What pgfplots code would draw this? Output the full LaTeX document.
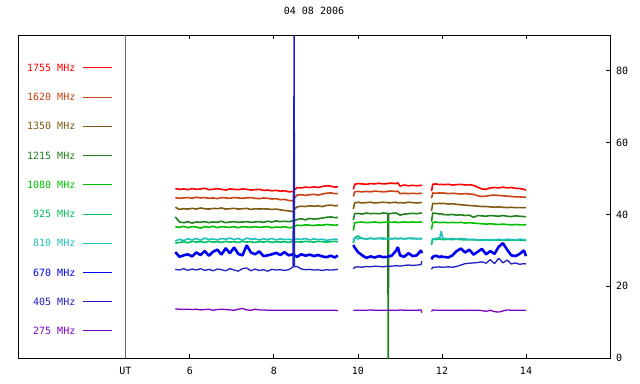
\documentclass[border=0pt]{standalone}
\usepackage{fontspec}
\setmainfont{DejaVu Sans Mono}
\usepackage{pgfplots}
\usepackage{pgfplotstable}
\pgfplotsset{compat=1.18}
\definecolor{c1755}{HTML}{FF0000}
\definecolor{c1620}{HTML}{C84010}
\definecolor{c1350}{HTML}{805A10}
\definecolor{c1215}{HTML}{208020}
\definecolor{c1080}{HTML}{00C000}
\definecolor{c925}{HTML}{00C060}
\definecolor{c810}{HTML}{20C0C0}
\definecolor{c670}{HTML}{0000F0}
\definecolor{c405}{HTML}{2020C0}
\definecolor{c275}{HTML}{8000C0}
\newcommand{\ff}{\fontsize{10bp}{12bp}\selectfont}
\pgfplotstableread{
x a b c d e f g h i j
5.65 47.2 44.7 42.0 39.3 36.6 32.0 32.6 29.5 24.7 13.7
5.75 47.0 44.5 41.4 37.9 36.4 32.2 33.1 28.2 24.5 13.6
5.85 47.1 44.6 41.6 37.7 36.7 32.4 32.7 28.6 24.9 13.6
5.95 46.9 44.7 41.5 38.0 36.3 32.1 33.2 28.9 24.4 13.6
6.05 47.2 44.5 41.7 37.6 36.6 32.5 32.9 28.3 24.8 13.5
6.15 47.0 44.8 41.5 37.9 36.5 32.3 33.3 29.4 24.5 13.6
6.25 47.1 44.6 41.8 37.8 36.2 32.4 32.8 28.7 24.9 13.4
6.35 47.3 44.7 41.6 38.0 36.6 32.2 33.4 29.8 24.4 13.5
6.45 46.9 44.5 41.5 37.7 36.4 32.5 33.0 28.5 24.7 13.6
6.55 47.0 44.6 41.7 37.9 36.7 32.3 33.2 29.6 24.3 13.3
6.65 47.2 44.4 41.6 37.8 36.3 32.4 32.9 30.2 24.8 13.5
6.75 47.0 44.7 41.8 38.1 36.6 32.2 33.3 28.8 24.6 13.6
6.85 46.8 44.6 41.5 37.7 36.5 32.5 33.1 30.6 24.3 13.5
6.95 47.1 44.5 41.6 37.9 36.4 32.3 33.4 29.2 24.9 13.4
7.05 47.0 44.7 41.7 38.0 36.6 32.4 33.0 30.8 24.5 13.3
7.15 46.9 44.6 41.5 37.8 36.3 32.2 33.3 29.0 24.2 13.6
7.25 47.1 44.5 41.6 37.9 36.6 32.5 32.8 28.6 24.9 13.8
7.35 47.0 44.6 41.7 38.0 36.5 32.3 33.4 31.4 25.1 13.4
7.45 46.8 44.7 41.4 37.8 36.4 32.4 33.1 29.4 24.3 13.3
7.55 46.9 44.5 41.6 37.9 36.6 32.2 33.2 28.9 24.8 13.6
7.65 47.0 44.4 41.5 38.0 36.4 32.4 32.9 29.7 24.4 13.4
7.75 46.7 44.6 41.6 37.8 36.5 32.3 33.2 28.4 24.6 13.4
7.85 46.8 44.5 41.5 38.1 36.6 32.5 33.0 28.6 24.2 13.3
7.95 46.6 44.3 41.4 37.9 36.3 32.2 33.3 28.9 24.7 13.3
8.05 46.7 44.4 41.5 38.2 36.5 32.4 32.9 29.3 24.5 13.3
8.15 46.5 44.1 41.3 38.0 36.4 32.3 33.2 28.7 24.6 13.3
8.25 46.6 44.2 41.1 38.1 36.6 32.4 33.0 29.5 24.4 13.3
8.35 46.3 43.9 41.0 38.0 36.3 32.2 33.1 28.6 24.6 13.3
8.45 46.4 43.8 40.8 38.2 36.4 32.5 32.9 28.9 25.3 13.3
8.47 46.5 44.0 41.0 38.1 36.5 32.3 33.0 28.7 59.0 13.3
8.48 46.7 44.2 41.2 38.2 36.6 32.4 33.1 28.8 95.0 13.3
8.49 46.9 44.6 41.5 38.3 36.7 32.3 33.0 28.6 25.4 13.3
8.55 47.5 45.4 42.1 38.6 37.0 32.4 33.2 28.2 25.5 13.3
8.65 47.4 45.5 42.3 38.8 36.9 32.3 33.0 28.9 24.8 13.3
8.75 47.6 45.3 42.2 38.5 37.1 32.5 33.3 28.5 24.6 13.3
8.85 47.5 45.5 42.4 38.9 37.0 32.4 32.9 28.8 24.7 13.3
8.95 47.7 45.6 42.3 38.7 36.9 32.3 33.2 28.4 24.5 13.3
9.05 47.5 45.4 42.4 38.8 37.1 32.5 33.0 28.7 24.6 13.3
9.15 47.8 45.7 42.2 39.0 37.0 32.4 33.1 28.3 24.4 13.3
9.25 48.0 45.9 42.5 39.2 37.2 32.3 32.8 28.1 24.6 13.3
9.35 47.9 46.0 42.6 39.3 37.1 32.4 33.0 28.5 24.5 13.3
9.45 47.6 45.8 42.4 39.1 37.0 32.5 33.1 28.0 24.6 13.3
9.52 47.7 45.8 42.5 39.2 37.1 32.4 33.0 28.6 24.7 13.2
9.70 nan nan nan nan nan nan nan nan nan nan
9.89 47.0 45.0 41.5 38.5 35.5 32.0 32.5 31.5 24.8 13.3
9.92 48.4 46.3 43.2 40.2 37.7 33.5 33.6 30.8 25.3 13.3
10.00 48.6 46.4 43.4 40.3 37.8 34.0 33.2 29.5 25.4 13.3
10.10 48.5 46.3 43.2 40.1 37.9 33.3 33.4 28.6 25.3 13.3
10.20 48.4 46.4 43.3 40.4 37.7 33.2 33.1 27.9 25.5 13.3
10.30 48.6 46.3 43.4 40.2 37.8 33.4 33.3 28.3 25.4 13.4
10.40 48.5 46.5 43.2 40.3 37.9 33.2 33.2 28.0 25.6 13.3
10.50 48.7 46.4 43.3 40.2 37.7 33.3 33.4 28.4 25.5 13.3
10.60 48.5 46.3 43.4 40.4 37.8 33.4 33.1 28.1 25.4 13.3
10.71 48.6 46.4 43.3 40.3 37.9 33.2 33.3 28.2 25.6 13.3
10.72 48.6 46.4 43.3 -1.0 37.8 33.3 33.2 28.2 25.6 13.3
10.73 48.7 46.5 43.2 40.2 37.9 33.3 33.3 28.3 25.5 13.3
10.80 48.7 46.5 43.3 40.3 37.8 33.2 33.2 28.5 25.6 13.3
10.90 48.6 46.4 43.4 40.4 37.9 33.3 33.4 29.8 25.7 13.3
10.95 48.8 46.5 43.2 40.2 37.7 33.2 33.2 30.9 25.7 13.3
11.00 47.9 45.8 43.3 39.8 37.8 33.4 33.3 28.6 25.6 13.4
11.10 48.2 45.9 43.2 40.1 37.9 33.2 33.2 28.2 25.8 13.3
11.20 48.0 45.8 43.4 40.2 37.8 33.3 33.4 29.2 25.9 13.3
11.30 48.1 45.9 43.3 40.3 37.9 33.4 33.2 28.4 25.8 13.3
11.40 48.0 45.8 43.2 40.2 37.8 33.2 33.3 28.6 25.9 13.3
11.50 48.1 45.9 43.3 40.4 37.9 33.3 33.2 30.0 26.0 13.4
11.52 48.0 45.8 43.3 40.3 37.8 33.3 33.3 29.2 27.0 12.6
11.63 nan nan nan nan nan nan nan nan nan nan
11.75 46.5 44.5 41.0 38.0 35.8 31.5 32.5 27.5 24.7 13.0
11.78 48.4 46.0 43.1 40.4 37.8 33.1 33.2 28.2 25.3 13.4
11.85 48.5 45.9 43.0 40.3 37.9 33.0 33.3 28.5 25.3 13.3
11.95 48.3 46.0 43.1 40.1 37.7 33.2 33.5 28.1 25.4 13.3
11.98 48.4 45.9 43.0 40.2 37.8 33.1 35.3 28.3 25.3 13.3
12.02 48.3 46.0 43.1 40.0 37.8 33.0 33.4 28.2 25.3 13.3
12.15 48.4 45.8 42.9 39.9 37.7 33.1 33.2 28.0 25.4 13.3
12.25 48.2 45.9 43.0 40.0 37.8 33.0 33.3 28.6 25.3 13.3
12.35 48.3 45.8 42.8 39.8 37.7 33.1 33.1 29.8 25.5 13.3
12.45 48.4 45.7 42.7 39.9 37.8 33.0 33.3 30.5 25.9 13.3
12.55 48.2 45.8 42.6 39.7 37.6 32.9 33.2 29.4 26.3 13.3
12.65 48.3 45.7 42.5 39.8 37.7 33.0 33.0 30.2 26.4 13.3
12.75 48.1 45.6 42.4 39.2 37.6 32.9 33.1 28.8 26.5 13.3
12.85 47.6 45.2 42.3 39.7 37.5 32.9 32.9 29.6 26.6 13.3
12.95 47.1 45.0 42.2 39.6 37.4 32.8 33.0 30.4 26.8 13.2
13.05 47.0 45.1 42.2 39.5 37.3 32.9 32.8 28.9 26.4 13.0
13.15 47.4 45.3 42.1 39.7 37.4 32.8 33.0 29.8 27.4 13.3
13.25 47.5 45.4 42.0 39.6 37.3 32.9 32.9 29.0 26.3 12.9
13.35 47.4 45.3 42.1 39.5 37.2 32.8 33.1 31.0 27.8 12.8
13.45 47.6 45.2 42.0 39.7 37.3 32.9 32.9 32.0 26.5 13.1
13.55 47.4 45.1 41.9 39.5 37.2 32.8 33.1 30.2 27.3 13.4
13.65 47.5 45.0 42.0 39.4 37.1 32.9 33.0 28.6 26.2 13.3
13.75 47.3 44.9 41.9 39.6 37.2 32.8 32.9 28.4 26.5 13.3
13.85 47.2 44.9 41.9 39.5 37.1 32.9 33.1 29.0 26.1 13.3
13.95 47.0 44.8 41.9 39.4 37.1 32.8 33.0 30.0 26.3 13.3
14.00 46.8 44.8 41.9 39.4 37.1 32.8 33.0 28.4 26.2 13.3
}\data
\begin{document}
\begin{tikzpicture}
\begin{axis}[
  scale only axis, width=592bp, height=323bp,
  xmin=1.905, xmax=16, ymin=0, ymax=90,
  unbounded coords=jump,
  axis line style={line width=1bp, black},
  tick style={line width=1bp, black},
  major tick length=4bp,
  tick align=inside,
  xtick={6,8,10,12,14},
  ytick={0,20,40,60,80},
  ytick pos=right, yticklabel pos=right,
  xtick pos=both, xticklabel pos=left,
  /pgf/number format/assume math mode=true,
  xticklabel style={font=\ff, inner sep=0pt, anchor=north, yshift=-9bp},
  yticklabel style={font=\ff, inner sep=0pt, anchor=west, xshift=6bp},
  extra x ticks={4.46},
  extra x tick labels={UT},
  extra x tick style={grid=major, major grid style={line width=1bp, black!60}, major tick length=0pt},
  title={04 08 2006},
  title style={at={(axis description cs:0.5,1)}, anchor=base, inner sep=0pt, yshift=14.3bp, font=\ff},
  legend style={at={(axis description cs:0,1)}, anchor=north east, xshift=94.5bp, yshift=-29bp,
    draw=none, fill=none, inner sep=0pt, row sep=20.3bp, column sep=7bp,
    nodes={inner sep=0pt}, font=\ff},
  legend plot pos=right,
  legend cell align=right,
  legend image code/.code={\draw[#1, line width=1bp] (0bp,0.6bp) -- (29bp,0.6bp);},
  every axis plot/.append style={line width=1.6bp, line join=bevel},
]
\addplot[c1755] table[x=x,y=a]{\data}; \addlegendentry{\textcolor{c1755}{1755 MHz}}
\addplot[c1620] table[x=x,y=b]{\data}; \addlegendentry{\textcolor{c1620}{1620 MHz}}
\addplot[c1350] table[x=x,y=c]{\data}; \addlegendentry{\textcolor{c1350}{1350 MHz}}
\addplot[c1215] table[x=x,y=d]{\data}; \addlegendentry{\textcolor{c1215}{1215 MHz}}
\addplot[c1080] table[x=x,y=e]{\data}; \addlegendentry{\textcolor{c1080}{1080 MHz}}
\addplot[c925] table[x=x,y=f]{\data}; \addlegendentry{\textcolor{c925}{925 MHz}}
\addplot[c810] table[x=x,y=g]{\data}; \addlegendentry{\textcolor{c810}{810 MHz}}
\addplot[c670, line width=2.6bp] table[x=x,y=h]{\data}; \addlegendentry{\textcolor{c670}{670 MHz}}
\addplot[c405, line width=1.3bp] table[x=x,y=i]{\data}; \addlegendentry{\textcolor{c405}{405 MHz}}
\addplot[c275, line width=1.3bp] table[x=x,y=j]{\data}; \addlegendentry{\textcolor{c275}{275 MHz}}
\end{axis}
\pgfresetboundingbox
\path[use as bounding box] (-18bp,-26bp) rectangle (622bp,358bp);
\end{tikzpicture}
\end{document}
